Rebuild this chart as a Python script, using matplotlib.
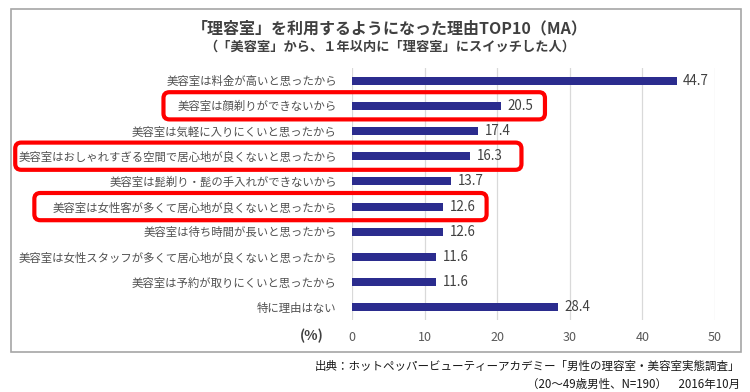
import matplotlib
matplotlib.use("Agg")
import matplotlib.pyplot as plt
from matplotlib.patches import Rectangle, FancyBboxPatch
from matplotlib.transforms import IdentityTransform

plt.rcParams['font.family'] = ['Noto Sans CJK JP', 'DejaVu Sans']

# ---- data ----
categories = [
    "美容室は料金が高いと思ったから",
    "美容室は顔剃りができないから",
    "美容室は気軽に入りにくいと思ったから",
    "美容室はおしゃれすぎる空間で居心地が良くないと思ったから",
    "美容室は髭剃り・髭の手入れができないから",
    "美容室は女性客が多くて居心地が良くないと思ったから",
    "美容室は待ち時間が長いと思ったから",
    "美容室は女性スタッフが多くて居心地が良くないと思ったから",
    "美容室は予約が取りにくいと思ったから",
    "特に理由はない",
]
values = [44.7, 20.5, 17.4, 16.3, 13.7, 12.6, 12.6, 11.6, 11.6, 28.4]
x_ticks = [0, 10, 20, 30, 40, 50]
highlight_idx = [1, 3, 5]
highlight_pad_left = [14, 3, 18]
highlight_pad_right = [12, 19, 11]

title1 = "「理容室」を利用するようになった理由TOP10（MA）"
title2 = "（「美容室」から、１年以内に「理容室」にスイッチした人）"
source1 = "出典：ホットペッパービューティーアカデミー「男性の理容室・美容室実態調査」"
source2 = "（20～49歳男性、N=190）　2016年10月"

W, H = 750, 392
fig = plt.figure(figsize=(W / 100, H / 100), dpi=100)
fig.patch.set_facecolor("white")

ax = fig.add_axes([352 / W, 1 - 320 / H, (715 - 352) / W, (320 - 68) / H])
ypos = list(range(len(categories)))
ax.barh(ypos, values, height=0.32, color="#2b2c8e", zorder=3)
ax.set_xlim(0, 50)
ax.set_ylim(len(categories) - 0.5, -0.5)
ax.set_xticks(x_ticks)
ax.set_xticklabels([str(t) for t in x_ticks], fontsize=9, color="#595959")
ax.set_yticks(ypos)
ax.set_yticklabels(categories, fontsize=8.2, color="#505050")
ax.tick_params(axis="both", length=0)
ax.tick_params(axis="y", pad=11)
ax.tick_params(axis="x", pad=8)
ax.grid(axis="x", color="#d9d9d9", lw=0.9, zorder=0)
for s in ax.spines.values():
    s.set_visible(False)

value_texts = []
for y, v in zip(ypos, values):
    t = ax.annotate(f"{v:.1f}", (v, y), xytext=(4.5, 0), textcoords="offset points",
                    va="center", ha="left", fontsize=9.6, color="#404040")
    value_texts.append(t)

fig.text(312 / W, 1 - 336 / H, "(%)", ha="center", va="center", fontsize=10,
         fontweight="bold", color="#404040")

fig.text(390 / W, 1 - 28 / H, title1, ha="center", va="center", fontsize=11.5,
         fontweight="bold", color="#404040")
fig.text(390 / W, 1 - 47 / H, title2, ha="center", va="center", fontsize=9.5,
         fontweight="bold", color="#404040")

fig.text(740 / W, 1 - 366 / H, source1, ha="right", va="center", fontsize=8.3,
         color="#1a1a1a")
fig.text(740 / W, 1 - 384 / H, source2, ha="right", va="center", fontsize=8.3,
         color="#1a1a1a")

# outer frame
fig.add_artist(Rectangle((11 / W, 1 - 352 / H), (741 - 11) / W, (352 - 9) / H,
                         transform=fig.transFigure, fill=False, ec="#a6a6a6", lw=1.2))

# red highlight boxes derived from label and value text extents
fig.canvas.draw()
renderer = fig.canvas.get_renderer()
ylabels = ax.get_yticklabels()
for i, pl, pr in zip(highlight_idx, highlight_pad_left, highlight_pad_right):
    lb = ylabels[i].get_window_extent(renderer)
    vb = value_texts[i].get_window_extent(renderer)
    top = ax.transData.transform((0, i - 0.54))[1]
    bot = ax.transData.transform((0, i + 0.54))[1]
    x0 = lb.x0 - pl
    x1 = vb.x1 + pr
    box = FancyBboxPatch((x0, bot), x1 - x0, top - bot,
                         boxstyle="round,pad=0,rounding_size=6",
                         transform=IdentityTransform(), fill=False,
                         ec="#ff0000", lw=3.0, zorder=10)
    fig.add_artist(box)

fig.savefig("out.png", dpi=100)
